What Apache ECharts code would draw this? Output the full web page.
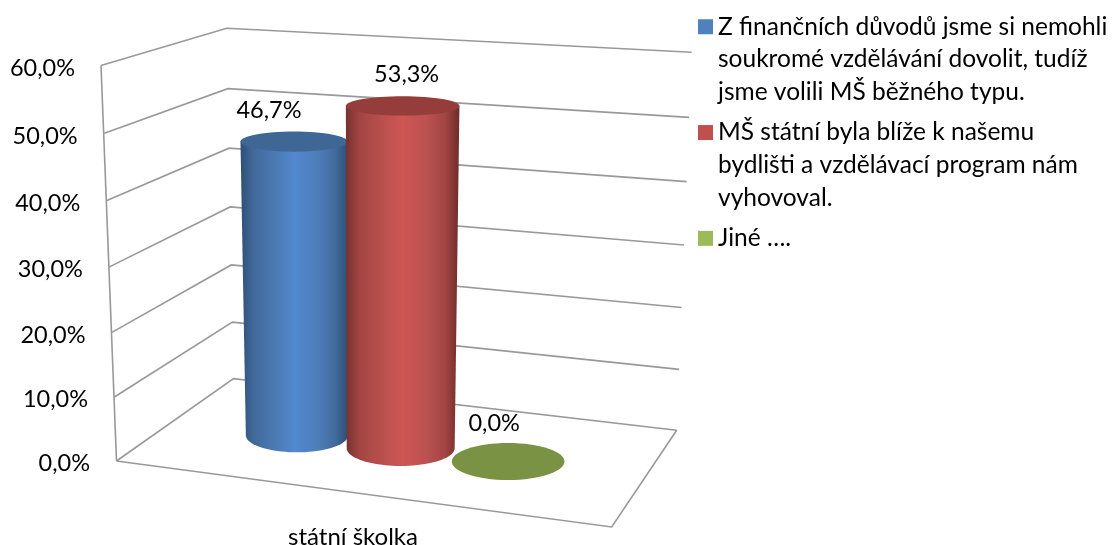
<!DOCTYPE html>
<html><head><meta charset="utf-8">
<style>html,body{margin:0;padding:0;background:#fff}#c{width:1116px;height:545px}</style>
<script src="https://cdn.jsdelivr.net/npm/echarts@6/dist/echarts.min.js"></script>
</head><body><div id="c"></div>
<script>
const categories = ['státní školka'];
const seriesNames = [
  'Z finančních důvodů jsme si nemohli soukromé vzdělávání dovolit, tudíž jsme volili MŠ běžného typu.',
  'MŠ státní byla blíže k našemu bydlišti a vzdělávací program nám vyhovoval.',
  'Jiné ….'
];
const legendLines = [
  ['Z finančních důvodů jsme si nemohli', 'soukromé vzdělávání dovolit, tudíž', 'jsme volili MŠ běžného typu.'],
  ['MŠ státní byla blíže k našemu', 'bydlišti a vzdělávací program nám', 'vyhovoval.'],
  ['Jiné ….']
];
const valuesFinance = [46.7];
const valuesNearby = [53.3];
const valuesOther = [0.0];
const axisTicks = [0, 10, 20, 30, 40, 50, 60];

const FONT = 'Lato', FS = 23.5, LEGEND_FS = 24.5;
const GRID = {left: 116, top: 66, width: 474, height: 395, outerBoundsMode: 'none'};
const YMAX = 60;
// Corners of the 3D box on screen: [value 0, value max]
const BOX = {
  A: [[116.5, 461], [101, 65.5]],
  B: [[233.5, 378.7], [226.7, 28.3]],
  C: [[676.7, 430.3], [691.7, 52.3]],
  D: [[611.7, 527], [630, 101]]
};
const lerp = (p, q, k) => [p[0] + (q[0] - p[0]) * k, p[1] + (q[1] - p[1]) * k];
const warp = t => t / (t + 1.04 * (1 - t));
const edge = (name, t) => lerp(BOX[name][0], BOX[name][1], warp(t));
function project(u, t, w) {
  const front = lerp(edge('A', t), edge('D', t), u);
  const back = lerp(edge('B', t), edge('C', t), u);
  return lerp(front, back, w);
}
const fmt = v => v.toFixed(1).replace('.', ',') + '%';

// Per-series look
const SLOT_U = [0.26, 0.481, 0.71];
const DU = [0.109, 0.115, 0.12];
const DW = 0.2;
const LABEL_SHIFT = [[-25, -31], [4, -32], [-14, -38]];
const LOOK = [
  {legend: '#4F81BD', top: '#3E6795', stops: ['#2F4F76', '#41699B', '#4A78B0', '#5388CE', '#4D7EBB', '#416A9B', '#2E4E74']},
  {legend: '#C0504D', top: '#943D3B', stops: ['#763130', '#A24543', '#B74F4C', '#CE5653', '#B95150', '#A04442', '#6E2C2A']},
  {legend: '#9BBB59', top: '#7A9244', stops: ['#7A9244', '#7A9244', '#7A9244', '#7A9244', '#7A9244', '#7A9244', '#7A9244']}
];

function cylinder(i) {
  return function (params, api) {
    const val = api.value(1);
    const pt = api.coord([api.value(0), val]);
    const uBase = (pt[0] - GRID.left) / GRID.width - 0.5;
    const u = SLOT_U[i] + uBase;
    const t = (GRID.top + GRID.height - pt[1]) / GRID.height;
    const look = LOOK[i];
    const ell = tt => {
      const c = project(u, tt, 0.5);
      const rx = (project(u + DU[i], tt, 0.5)[0] - project(u - DU[i], tt, 0.5)[0]) / 2;
      const ry = (project(u, tt, 0.5 - DW)[1] - project(u, tt, 0.5 + DW)[1]) / 2;
      return {cx: c[0], cy: c[1], rx, ry};
    };
    const topE = ell(t), botE = ell(0);
    const children = [];
    if (val > 0) {
      const pts = [];
      const N = 40;
      for (let k = 0; k <= N; k++) {
        const a = Math.PI * k / N;
        pts.push([botE.cx - botE.rx * Math.cos(a), botE.cy + botE.ry * Math.sin(a)]);
      }
      pts.push([topE.cx + topE.rx, topE.cy], [topE.cx - topE.rx, topE.cy]);
      const s = look.stops;
      children.push({
        type: 'polygon', shape: {points: pts},
        style: {fill: new echarts.graphic.LinearGradient(0, 0, 1, 0, [
          {offset: 0, color: s[0]}, {offset: 0.12, color: s[1]}, {offset: 0.3, color: s[2]},
          {offset: 0.5, color: s[3]}, {offset: 0.72, color: s[4]}, {offset: 0.88, color: s[5]}, {offset: 1, color: s[6]}
        ])}
      });
    }
    children.push({type: 'ellipse', shape: topE, style: {fill: look.top}});
    children.push({
      type: 'text',
      style: {
        x: topE.cx + LABEL_SHIFT[i][0], y: topE.cy + LABEL_SHIFT[i][1],
        text: fmt(val), align: 'center', verticalAlign: 'middle',
        font: FS + 'px ' + FONT, fill: '#000'
      }
    });
    return {type: 'group', children};
  };
}

function frameItem(params, api) {
  const v = api.value(0);
  const y = api.coord([0, v])[1];
  const t = (GRID.top + GRID.height - y) / GRID.height;
  const line = {stroke: '#999999', lineWidth: 1.6, fill: null};
  const children = [{
    type: 'polyline',
    shape: {points: [project(0, t, 0), project(0, t, 1), project(1, t, 1)]},
    style: line
  }];
  if (v === 0) {
    children.push({type: 'polyline', shape: {points: [project(0, 0, 0), project(1, 0, 0), project(1, 0, 1)]}, style: line});
    children.push({type: 'polyline', shape: {points: [project(0, 0, 0), project(0, 1, 0)]}, style: line});
  }
  return {type: 'group', children};
}

const tickRich = {};
axisTicks.forEach(v => {
  const t = v / YMAX;
  const p = project(0, t, 0);
  const linearY = GRID.top + GRID.height * (1 - t);
  const d = p[1] + 2.5 - linearY;
  tickRich['t' + v] = {
    fontFamily: FONT, fontSize: FS, color: '#000',
    padding: [d > 0 ? 2 * d : 0, Math.max(0, GRID.left - p[0]), d < 0 ? -2 * d : 0, 0]
  };
});

const valueSets = [valuesFinance, valuesNearby, valuesOther];
const chart = echarts.init(document.getElementById('c'), null, {renderer: 'canvas'});
chart.setOption({
  animation: false,
  backgroundColor: '#fff',
  color: LOOK.map(l => l.legend),
  grid: GRID,
  legend: {
    orient: 'vertical', left: 698, top: -55, padding: 0, itemWidth: 15, itemHeight: 15, itemGap: -57.7,
    selectedMode: false, icon: 'rect',
    data: seriesNames,
    formatter: name => {
      const lines = legendLines[seriesNames.indexOf(name)];
      const below = Math.max(0, 2 - (lines.length - 1));
      return ['', ''].concat(lines, new Array(below).fill('')).join('\n');
    },
    textStyle: {fontFamily: FONT, fontSize: LEGEND_FS, color: '#000', lineHeight: 32.7}
  },
  xAxis: {
    type: 'category', data: categories,
    axisLine: {show: false}, axisTick: {show: false}, splitLine: {show: false},
    axisLabel: {fontFamily: FONT, fontSize: 24, color: '#000', margin: 64}
  },
  yAxis: {
    type: 'value', min: 0, max: YMAX, interval: 10,
    axisLine: {show: false}, axisTick: {show: false}, splitLine: {show: false},
    axisLabel: {
      margin: 26,
      formatter: v => '{t' + v + '|' + fmt(v) + '}',
      rich: tickRich
    }
  },
  series: [
    {name: 'frame', type: 'custom', silent: true, renderItem: frameItem, clip: false,
     data: axisTicks.map(v => [v]), encode: {y: 0}, z: 1}
  ].concat(seriesNames.map((name, i) => ({
    name, type: 'custom', renderItem: cylinder(i), clip: false, z: 2 + i,
    data: categories.map((c, k) => [k, valueSets[i][k]]),
    encode: {x: 0, y: 1},
    itemStyle: {color: LOOK[i].legend}
  })))
});
</script></body></html>
